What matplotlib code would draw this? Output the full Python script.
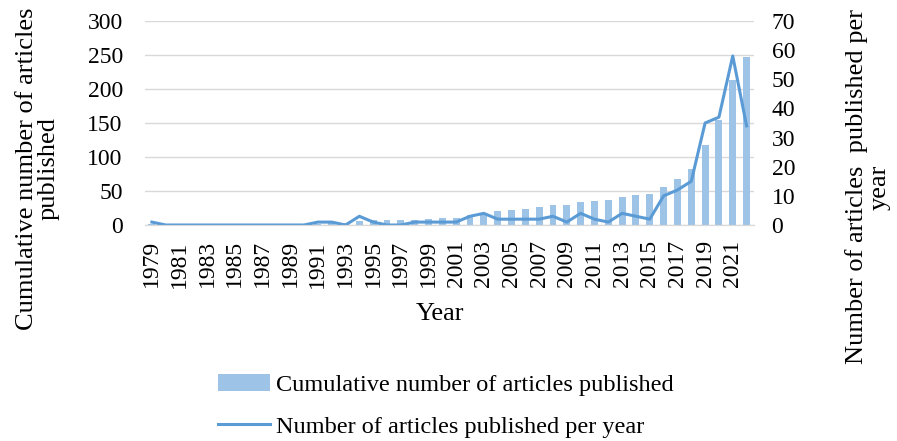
import matplotlib
matplotlib.use("Agg")
import matplotlib.pyplot as plt
import numpy as np

plt.rcParams['font.family'] = ['Liberation Serif', 'DejaVu Serif']

# data
years = list(range(1979, 2023))
per_year = [1, 0, 0, 0, 0, 0, 0, 0, 0, 0, 0, 0,
            1, 1, 0, 3, 1, 0, 0, 1, 1, 1, 1,
            3, 4, 2, 2, 2, 2, 3, 1, 4, 2, 1, 4, 3, 2,
            10, 12, 15, 35, 37, 58, 34]
cumulative = list(np.cumsum(per_year))
tick_years = years[::2]

bar_color = '#9DC3E6'
line_color = '#5B9BD5'
grid_color = '#D9D9D9'


def main():
    fig = plt.figure(figsize=(8.97, 4.41), dpi=100)
    ax = fig.add_axes([145 / 897, 1 - 225 / 441, 608.5 / 897, 204 / 441])
    ax2 = ax.twinx()

    bars = ax.bar(years, cumulative, width=0.5, color=bar_color,
                  label='Cumulative number of articles published', zorder=2)
    line, = ax2.plot(years, per_year, color=line_color, lw=2.2,
                     label='Number of articles published per year')

    ax.set_xlim(1978.5, 2022.5)
    ax.set_ylim(0, 300)
    ax.set_yticks(range(0, 301, 50))
    ax2.set_ylim(0, 70)
    ax2.set_yticks(range(0, 71, 10))
    ax.set_xticks(tick_years)
    ax.set_xticklabels([str(y) for y in tick_years], rotation=90)

    ax.grid(axis='y', color=grid_color, lw=1, zorder=0)
    ax.set_axisbelow(True)
    for a in (ax, ax2):
        for s in ('top', 'left', 'right'):
            a.spines[s].set_visible(False)
        a.spines['bottom'].set_color(grid_color)
        a.tick_params(length=0, labelsize=17, colors='black')
    ax.tick_params(axis='y', pad=16)
    ax2.tick_params(axis='y', pad=13)
    ax.tick_params(axis='x', pad=11)

    fig.text(38 / 897, 1 - 169 / 441,
             'Cumulative number of articles\npublished', rotation=90,
             ha='center', va='center', fontsize=19, linespacing=1.0)
    fig.text(868 / 897, 1 - 187 / 441,
             'Number of articles  published per\nyear', rotation=90,
             ha='center', va='center', fontsize=19, linespacing=1.0)
    fig.text(440 / 897, 1 - 314 / 441, 'Year', ha='center', va='center',
             fontsize=19)

    fig.legend([bars, line],
               ['Cumulative number of articles published',
                'Number of articles published per year'],
               loc='upper left', bbox_to_anchor=(206 / 897, 1 - 362 / 441),
               frameon=False, fontsize=17.5, handlelength=2.15,
               handletextpad=0.25, labelspacing=0.8, borderpad=0)

    fig.savefig('out.png', dpi=100)


if __name__ == "__main__":
    main()
